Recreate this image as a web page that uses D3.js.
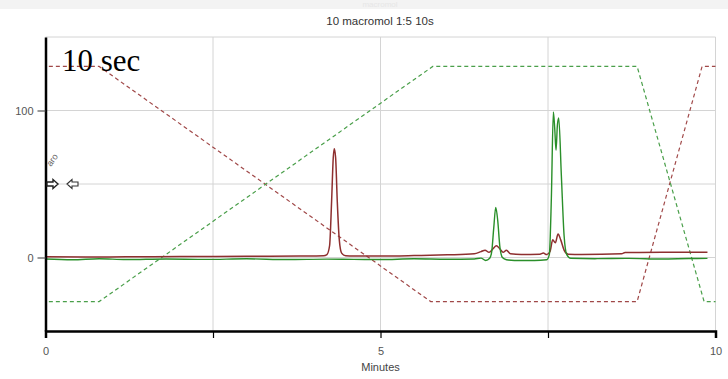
<!DOCTYPE html>
<html>
<head>
<meta charset="utf-8">
<script src="https://cdn.jsdelivr.net/npm/d3@7"></script>
<style>
  body { margin: 0; background: #fff; }
  svg { display: block; font-family: "Liberation Sans", Arial, sans-serif; }
</style>
</head>
<body>
<div id="chart"></div>
<script>
// ---- data ----
const chartTitle = '10 macromol 1:5 10s';
const xTicks = [0, 2.5, 5, 7.5, 10];
const xTickLabels = ['0', '', '5', '', '10'];
const yTicks = [0, 100];
const yGrid = [0, 50, 100, 150];

// gradient programs (dashed), [minutes, value]
const redGradient = [[0.05, 130], [0.8, 130], [5.75, -30], [8.83, -30], [9.8, 130], [10, 130]];
const greenGradient = [[0.05, -30], [0.8, -30], [5.78, 130], [8.83, 130], [9.83, -30], [10, -30]];

// detector traces (solid), [minutes, value]
const redTrace = [
  [0, 0.5], [0.6, 0.3], [1.2, 0.5], [2, 0.6], [3, 0.8], [3.8, 1], [4.15, 1.2],
  [4.2, 2], [4.24, 8], [4.27, 38], [4.295, 68], [4.31, 74], [4.33, 68], [4.355, 38],
  [4.385, 12], [4.42, 3], [4.48, 1.2], [4.6, 1], [5, 1], [5.5, 1.3], [6, 1.8],
  [6.4, 2.5], [6.5, 4], [6.56, 5], [6.62, 3.5], [6.68, 6], [6.73, 8], [6.78, 6],
  [6.83, 3.5], [6.88, 5], [6.94, 2.5], [7.1, 2], [7.38, 2.2], [7.43, 3], [7.48, 2],
  [7.53, 4], [7.57, 12], [7.61, 10], [7.65, 16], [7.69, 12], [7.74, 5], [7.8, 2.2],
  [8, 2], [8.6, 2.5], [8.65, 3.4], [9.2, 3.5], [9.88, 3.5]
];
const greenTrace = [
  [0, -1], [0.4, -1.5], [0.8, -0.8], [1.2, -1.4], [1.8, -1], [2.4, -1.3], [3, -0.9],
  [3.6, -1.4], [4.2, -1.1], [4.6, -1.3], [5, -1.4], [5.5, -0.9], [6, -1.2], [6.4, -1],
  [6.5, -0.4], [6.57, -2], [6.63, -0.5], [6.66, 4], [6.69, 20], [6.72, 34], [6.75, 25],
  [6.78, 8], [6.82, 0], [6.88, -1.5], [7.0, -2], [7.3, -2], [7.48, -1.5], [7.52, 2],
  [7.55, 40], [7.58, 99], [7.6, 88], [7.62, 73], [7.64, 90], [7.66, 95], [7.7, 55],
  [7.74, 15], [7.78, 2], [7.84, -0.5], [8.2, -0.8], [8.7, -0.6], [9.2, -1], [9.6, -0.7],
  [9.88, -0.6]
];

// ---- layout ----
const W = 728, H = 379;
const svg = d3.select('#chart').append('svg').attr('width', W).attr('height', H);

const x = d3.scaleLinear().domain([0, 10]).range([45.5, 715.5]);
const y = d3.scaleLinear().domain([-50, 150]).range([331, 37]);

// faint header strip
svg.append('rect').attr('x', 0).attr('y', 0).attr('width', W).attr('height', 9).attr('fill', '#f3f3f3');
svg.append('text').attr('x', 380).attr('y', 7).attr('text-anchor', 'middle')
   .attr('font-size', 8).attr('fill', '#e6e6e6').text('macromol');

svg.append('text')
   .attr('x', 380).attr('y', 25)
   .attr('text-anchor', 'middle')
   .attr('font-size', 11.5)
   .attr('fill', '#333')
   .text(chartTitle);

// grid
const grid = svg.append('g').attr('stroke', '#d4d4d4').attr('stroke-width', 1);
grid.selectAll('.vg').data(xTicks.slice(1)).join('line')
    .attr('x1', d => x(d)).attr('x2', d => x(d))
    .attr('y1', y(150)).attr('y2', y(-50));
grid.selectAll('.hg').data(yGrid).join('line')
    .attr('x1', x(0)).attr('x2', x(10))
    .attr('y1', d => y(d)).attr('y2', d => y(d));

// gradients
const line = d3.line().x(d => x(d[0])).y(d => y(d[1]));
svg.append('path').datum(redGradient).attr('d', line)
   .attr('fill', 'none').attr('stroke', '#a04848').attr('stroke-width', 1.2)
   .attr('stroke-dasharray', '4,3');
svg.append('path').datum(greenGradient).attr('d', line)
   .attr('fill', 'none').attr('stroke', '#4a9f4a').attr('stroke-width', 1.2)
   .attr('stroke-dasharray', '4,3');

// traces
const trace = d3.line().x(d => x(d[0])).y(d => y(d[1])).curve(d3.curveMonotoneX);
svg.append('path').datum(redTrace).attr('d', trace)
   .attr('fill', 'none').attr('stroke', '#8e2f2f').attr('stroke-width', 1.5);
svg.append('path').datum(greenTrace).attr('d', trace)
   .attr('fill', 'none').attr('stroke', '#2a8f2a').attr('stroke-width', 1.4);

// axes
const xAxis = svg.append('g')
   .attr('transform', `translate(0, ${y(-50)})`)
   .call(d3.axisBottom(x).tickValues(xTicks).tickSize(7).tickPadding(9)
           .tickFormat((d, i) => xTickLabels[i]));
xAxis.select('.domain').attr('stroke', '#000').attr('stroke-width', 2.5);
xAxis.selectAll('.tick line').attr('stroke', '#000').attr('stroke-width', 1.2);
xAxis.selectAll('.tick text').attr('font-size', 11).attr('fill', '#555');

const yAxis = svg.append('g')
   .attr('transform', `translate(${x(0)}, 0)`)
   .call(d3.axisLeft(y).tickValues(yTicks).tickSize(8).tickPadding(4).tickSizeOuter(0));
yAxis.select('.domain').attr('stroke', '#000').attr('stroke-width', 2.5);
yAxis.selectAll('.tick line').attr('stroke', '#555').attr('stroke-width', 1.2);
yAxis.selectAll('.tick text').attr('font-size', 11).attr('fill', '#555');

svg.append('text')
   .attr('x', x(5)).attr('y', 371)
   .attr('text-anchor', 'middle')
   .attr('font-size', 11)
   .attr('fill', '#444')
   .text('Minutes');

// little marker arrows at the 50 line
const ay = y(50);
const arrow = (tip, dir) =>
  `M${tip},${ay} l${-5 * dir},-4.5 v2.5 h${-6 * dir} v4 h${6 * dir} v2.5 z`;
svg.append('path').attr('d', arrow(58, 1)).attr('fill', '#fff').attr('stroke', '#222').attr('stroke-width', 1.4);
svg.append('path').attr('d', arrow(67, -1)).attr('fill', '#fff').attr('stroke', '#333').attr('stroke-width', 1.1);

svg.append('text')
   .attr('transform', 'translate(51,167) rotate(-55)')
   .attr('font-size', 9)
   .attr('fill', '#666')
   .text('aro');

// big annotation
svg.append('text')
   .attr('x', 62).attr('y', 71)
   .attr('font-family', '"Liberation Serif", "Times New Roman", serif')
   .attr('font-size', 31)
   .attr('fill', '#000')
   .text('10 sec');
</script>
</body>
</html>
